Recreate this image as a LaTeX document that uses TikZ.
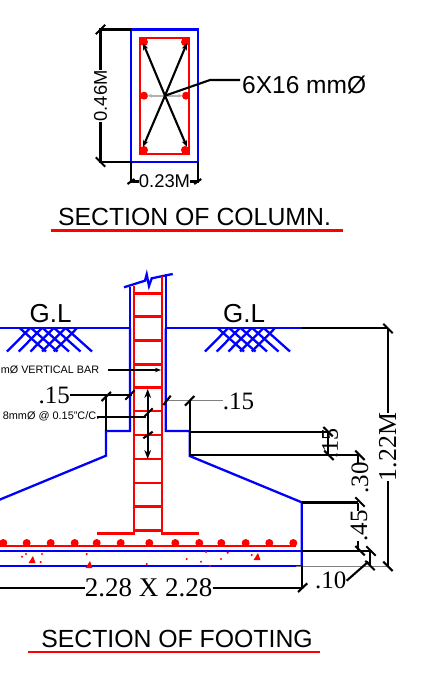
\documentclass[tikz,border=0pt]{standalone}
\usepackage{fontspec}
\setmainfont{Liberation Serif}
\setsansfont{Liberation Sans}
\tikzset{
  wall/.style={draw=blue,line width=2.3pt},
  bar/.style={draw=red,line width=2.6pt},
  dim/.style={draw=black,line width=2.1pt},
  sans/.style={inner sep=0pt,font=\sffamily\fontsize{#1}{#1}\selectfont},
  serif/.style={inner sep=0pt,font=\rmfamily\fontsize{#1}{#1}\selectfont},
}
% slash on a dimension end
\newcommand{\dimtick}[1]{\draw [dim] ($(#1)+(-4.7,-4.7)$)--($(#1)+(4.7,4.7)$);}
\newcommand{\backtick}[1]{\draw [dim] ($(#1)+(-4.7,4.7)$)--($(#1)+(4.7,-4.7)$);}
\usetikzlibrary{calc,arrows.meta}
\begin{document}
\begin{tikzpicture}[x=1pt,y=-1pt]
  \path [use as bounding box,clip] (0,0) rectangle (447,675);

  % column
  \draw [wall] (131,29.5) rectangle (197.7,162);
  \draw [bar] (140,38) rectangle (189,154);
  \foreach \x/\y in {144/42,185/42,144/95.7,186/95.7,144/150,185/150}
    \fill [red] (\x,\y) circle (4);
  \fill [red] (140,38) rectangle (146,44) (183,38) rectangle (189,44)
    (140,148) rectangle (146,154) (183,148) rectangle (189,154);
  \coordinate (mid) at (165,95.7);
  \draw [gray!60,line width=1.6pt,{Stealth[length=5pt]}-{Stealth[length=5pt]}] (147,95.7)--(183,95.7);
  \foreach \x/\y in {143/43,187/43,143/147,187/147}
    \draw [dim,-{Stealth[length=7pt]}] (mid)--(\x,\y);
  \node [sans=24.5,anchor=west] (bars) at (242,85) {6X16 mmØ};
  \draw [dim] (mid)--(210,80)--(240,80);

  \node [sans=18.4,rotate=90] (hgt) at (100.5,96) {0.46M};
  \draw [dim] (131,29.5)--(100.5,29.5)--(hgt.east);
  \draw [dim] (131,162)--(100.5,162)--(hgt.west);
  \backtick{100.5,29.5}
  \dimtick{100.5,162}
  \node [sans=18.4] (wid) at (164.5,181.5) {0.23M};
  \draw [dim] (131,162)--(131,181.5)--(wid.west);
  \draw [dim] (197.7,162)--(197.7,181.5)--(wid.east);
  \draw [dim] (127.5,184)--(134.5,179);
  \draw [dim] (194.2,184)--(201.2,179);
  \node [sans=24.8] (coltitle) at (194.5,217) {SECTION OF COLUMN.};
  \draw [red,line width=2.2pt] (51,230.5)--(343,230.5);

  % footing outline
  \draw [wall] (-10,328.3)--(130,328.3)--(130,287);
  \draw [wall] (302,328.3)--(165.7,328.3)--(165.7,274);
  \draw [wall] (124,287.3)--(145,280.7)--(146.7,274.3)--(149,286)--(151.7,278.3)--(172.7,274);
  \draw [wall] (130,328.3)--(130,431)--(106,431)--(106,455.7)--(-6,502);
  \draw [wall] (165.7,328.3)--(165.7,431)--(189.7,431)--(189.7,456)--(301.7,502.3)--(301.7,566.5);
  \draw [wall] (-5,550.7)--(301.7,550.7);
  \draw [wall] (-5,566.3)--(301.7,566.3);

  % hatch under G.L
  \foreach \s in {0,198}{
    \foreach \x in {30,41.7,53.4,65.1,76.8}
      \draw [wall] (\x+\s,328.3)--(\x+\s-23,351.5);
    \foreach \x in {20,31.5,43,54.5,66}
      \draw [wall] (\x+\s,328.3)--(\x+\s+26,351.5);
  }
  \node [sans=26] (gl) at (50.5,314) {G.L};
  \node [sans=26] (gr) at (244,314) {G.L};

  % bars in the column
  \draw [bar] (96.7,533.3)--(134,533.3)--(134,285.7);
  \draw [bar] (199.3,533.3)--(162,533.3)--(162,276);
  \foreach \y in {293.3,316.5,340.5,364.3,387.7,411,435,459,483,506.7,530.7}
    \draw [bar] (134,\y)--(162,\y);

  % bars in the footing
  \draw [bar] (-5,546)--(296,546);
  \foreach \x in {3.3,26.7,50.7,74.7,96.7,120.7,149.3,175.3,199.3,221.3,245.7,269.3,293.3}
    \fill [red] (\x,543) circle (4);
  \foreach \x/\y in {22/556.7,26/554,42/554,40.7/562,86.7/554,146.7/564,186.7/559,201/561.7,206/552,221/559,210/565.7,227.7/552.7,251.7/555}
    \fill [red] (\x,\y) circle (1.2);
  \foreach \x/\y in {32/556,89/561,257/553}
    \fill [red] (\x-3.5,\y+7)--(\x+3.5,\y+7)--(\x+1,\y)--cycle;

  % labels on the left
  \node [sans=10.8,anchor=east] (vbar) at (99.3,370) {mØ VERTICAL BAR};
  \coordinate (vbarend) at (161,370);
  \draw [dim,-{Stealth[length=6pt]}] (108,370)--(vbarend);
  \node [serif=25,anchor=east] (cl) at (70,395) {.15};
  \draw [dim] (cl.east)--(132,395);
  \draw [dim] (101.5,401)--(111,392);
  \backtick{130,395}
  \draw [dim] (106,395)--(106,431);
  \node [sans=10.9,anchor=east] (stir) at (99.5,416.7) {8mmØ @ 0.15"C/C.};
  \draw [dim] (96.7,416.7)--(145.7,416.7);
  \draw [dim,{Stealth[length=9pt]}-{Stealth[length=9pt]}] (147.7,389)--(147.7,459);
  \draw [dim] (143.3,417.7)--(152.7,408.3);
  \draw [dim] (143.3,438.3)--(152.7,431.7);

  % .15 on the right
  \node [serif=25,anchor=west] (cr) at (222.7,401.7) {.15};
  \draw [gray,line width=1.6pt] (166,400.3)--(cr.west|-166,400.3);
  \draw [dim] (163.3,405)--(170.7,395.7);
  \draw [dim] (185,405.7)--(194.3,396);
  \draw [dim] (189.7,400.3)--(189.7,456);

  % dimensions on the right
  \draw [dim] (189.7,431.7)--(328,431.7);
  \draw [dim] (189.7,455.3)--(358,455.3);
  \draw [dim] (301.7,502.5)--(358,502.5);
  \draw [dim] (301.7,550.7)--(372,550.7);
  \draw [gray,line width=1.6pt] (296,566.3)--(387.7,566.3);
  \draw [dim] (302,328.3)--(387.7,328.3);

  \node [serif=24,rotate=90] (d15) at (330,443) {.15};
  \draw [dim] (328,431.7)--(328,455.3);
  \dimtick{328,431.7}
  \dimtick{329,455.3}
  \node [serif=25,rotate=90] (d30) at (360,478) {.30};
  \draw [dim] (358,455.3)--(358,463);
  \dimtick{360,455.3}
  \dimtick{360,502}
  \node [serif=25,rotate=90] (d45) at (359,526) {.45};
  \draw [dim] (358,502.5)--(358,511);
  \draw [dim] (358,541)--(358,550.7);
  \dimtick{360,550.7}
  \dimtick{371,551}
  \dimtick{370,565.5}
  \draw [dim] (370,550.7)--(370,566.3);
  \node [serif=25.8,rotate=90] (d122) at (387.7,447) {1.22M};
  \draw [dim] (387.7,328.3)--(d122.east);
  \draw [dim] (387.7,566.3)--(d122.west);
  \dimtick{388,328.5}
  \dimtick{388,566.3}
  \node [serif=25,anchor=west] (d10) at (315,580.7) {.10};
  \draw [dim] (d10.east)--(368.3,561.7);

  \node [serif=27] (size) at (148.7,587.7) {2.28 X 2.28};
  \draw [dim] (-5,587.7)--(size.west);
  \draw [dim] (size.east)--(301.7,587.7)--(301.7,566.3);
  \draw [dim] (298,592)--(307.3,583.3);

  \node [sans=24.8] (foottitle) at (177,639) {SECTION OF FOOTING};
  \draw [red,line width=2.2pt] (28,652)--(320,652);
\end{tikzpicture}
\end{document}
